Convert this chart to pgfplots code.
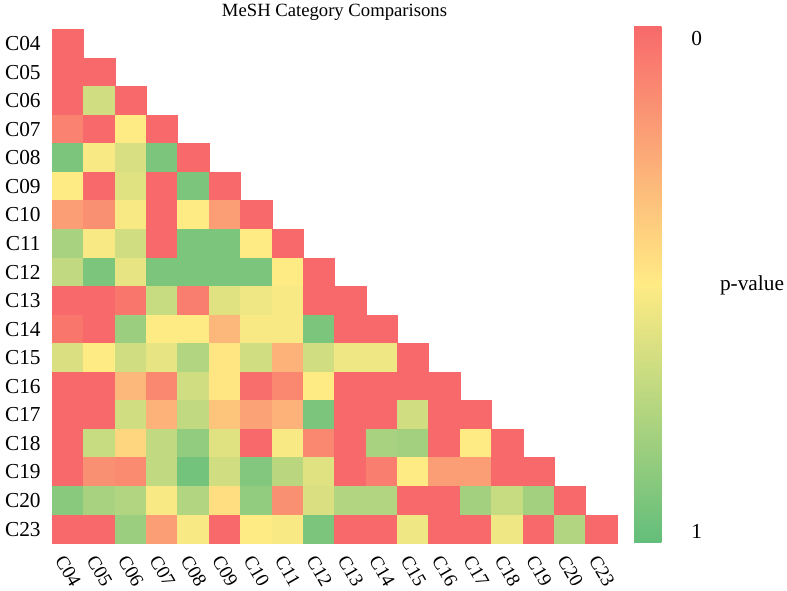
\documentclass[border=0pt]{standalone}
\usepackage{fontspec}
\setmainfont{Liberation Serif}
\usepackage{pgfplots}
\pgfplotsset{compat=1.18}
\begin{document}
\begin{tikzpicture}
\begin{axis}[
 name=main,
 scale only axis,
 width=423.75pt, height=385.5pt,
 xmin=-0.5, xmax=17.5, ymin=-0.5, ymax=17.5,
 y dir=reverse,
 axis line style={draw=none},
 major tick length=0pt,
 xtick={0,1,2,3,4,5,6,7,8,9,10,11,12,13,14,15,16,17},
 ytick={0,1,2,3,4,5,6,7,8,9,10,11,12,13,14,15,16,17},
 xticklabels={C04,C05,C06,C07,C08,C09,C10,C11,C12,C13,C14,C15,C16,C17,C18,C19,C20,C23},
 yticklabels={C04,C05,C06,C07,C08,C09,C10,C11,C12,C13,C14,C15,C16,C17,C18,C19,C20,C23},
 yticklabel style={font=\fontsize{16}{18}\selectfont, xshift=-5pt},
 xticklabel style={font=\fontsize{14.5}{16}\selectfont, rotate=-60, anchor=north west, inner sep=1pt, yshift=-4pt, xshift=5pt},
 title={MeSH Category Comparisons},
 title style={font=\fontsize{14}{16}\selectfont, at={(0.5,1)}, anchor=center, yshift=7pt},
 colormap={excel}{rgb255=(248,105,107) rgb255=(255,235,132) rgb255=(99,190,123)},
 point meta min=0, point meta max=1,
 colorbar,
 colorbar/width=20.5pt,
 colorbar style={
   scale only axis,
   at={(parent axis.north east)}, anchor=north west,
   xshift=4.25pt, yshift=2.5pt,
   width=20.5pt, height=387.5pt,
   y dir=reverse,
   axis line style={draw=none},
   major tick length=0pt,
   ytick={0.025,0.979}, yticklabels={0,1},
   yticklabel style={font=\fontsize{16}{18}\selectfont, xshift=19pt},
 },
]
\addplot[scatter, only marks, mark=square*, mark size=11.77pt,
  mark options={yscale=0.9098, line width=0.3pt},
  scatter/use mapped color={draw=mapped color, fill=mapped color},
  point meta=explicit] table[meta=p] {
x y p
0 0 0
0 1 0
1 1 0
0 2 0
1 2 0.65
2 2 0
0 3 0.1
1 3 0
2 3 0.5
3 3 0
0 4 0.92
1 4 0.52
2 4 0.63
3 4 0.92
4 4 0
0 5 0.5
1 5 0
2 5 0.6
3 5 0
4 5 0.92
5 5 0
0 6 0.2
1 6 0.15
2 6 0.52
3 6 0
4 6 0.5
5 6 0.2
6 6 0
0 7 0.78
1 7 0.52
2 7 0.65
3 7 0
4 7 0.92
5 7 0.92
6 7 0.5
7 7 0
0 8 0.7
1 8 0.92
2 8 0.58
3 8 0.92
4 8 0.92
5 8 0.92
6 8 0.92
7 8 0.5
8 8 0
0 9 0
1 9 0
2 9 0.05
3 9 0.68
4 9 0.08
5 9 0.6
6 9 0.55
7 9 0.52
8 9 0
9 9 0
0 10 0.05
1 10 0
2 10 0.82
3 10 0.5
4 10 0.5
5 10 0.3
6 10 0.52
7 10 0.52
8 10 0.92
9 10 0
10 10 0
0 11 0.62
1 11 0.5
2 11 0.65
3 11 0.58
4 11 0.75
5 11 0.48
6 11 0.65
7 11 0.28
8 11 0.65
9 11 0.55
10 11 0.55
11 11 0
0 12 0
1 12 0
2 12 0.3
3 12 0.12
4 12 0.65
5 12 0.48
6 12 0.02
7 12 0.12
8 12 0.5
9 12 0
10 12 0
11 12 0
12 12 0
0 13 0
1 13 0
2 13 0.65
3 13 0.28
4 13 0.7
5 13 0.35
6 13 0.22
7 13 0.28
8 13 0.92
9 13 0
10 13 0
11 13 0.65
12 13 0
13 13 0
0 14 0
1 14 0.68
2 14 0.42
3 14 0.7
4 14 0.85
5 14 0.6
6 14 0
7 14 0.52
8 14 0.12
9 14 0
10 14 0.78
11 14 0.8
12 14 0
13 14 0.5
14 14 0
0 15 0
1 15 0.15
2 15 0.13
3 15 0.7
4 15 0.95
5 15 0.65
6 15 0.9
7 15 0.72
8 15 0.6
9 15 0
10 15 0.08
11 15 0.5
12 15 0.2
13 15 0.2
14 15 0
15 15 0
0 16 0.88
1 16 0.78
2 16 0.75
3 16 0.52
4 16 0.75
5 16 0.45
6 16 0.85
7 16 0.15
8 16 0.62
9 16 0.75
10 16 0.75
11 16 0
12 16 0
13 16 0.8
14 16 0.68
15 16 0.8
16 16 0
0 17 0
1 17 0
2 17 0.82
3 17 0.2
4 17 0.52
5 17 0
6 17 0.5
7 17 0.52
8 17 0.92
9 17 0
10 17 0
11 17 0.55
12 17 0
13 17 0
14 17 0.55
15 17 0
16 17 0.75
17 17 0
};
\end{axis}
\node[font=\fontsize{16}{18}\selectfont, anchor=center] at ([xshift=525pt,yshift=193.7pt]main.south west) {p-value};
\pgfresetboundingbox
\path[use as bounding box] ([xshift=-39pt,yshift=-35pt]main.south west) rectangle ++(590.25pt,442.5pt);
\end{tikzpicture}
\end{document}
